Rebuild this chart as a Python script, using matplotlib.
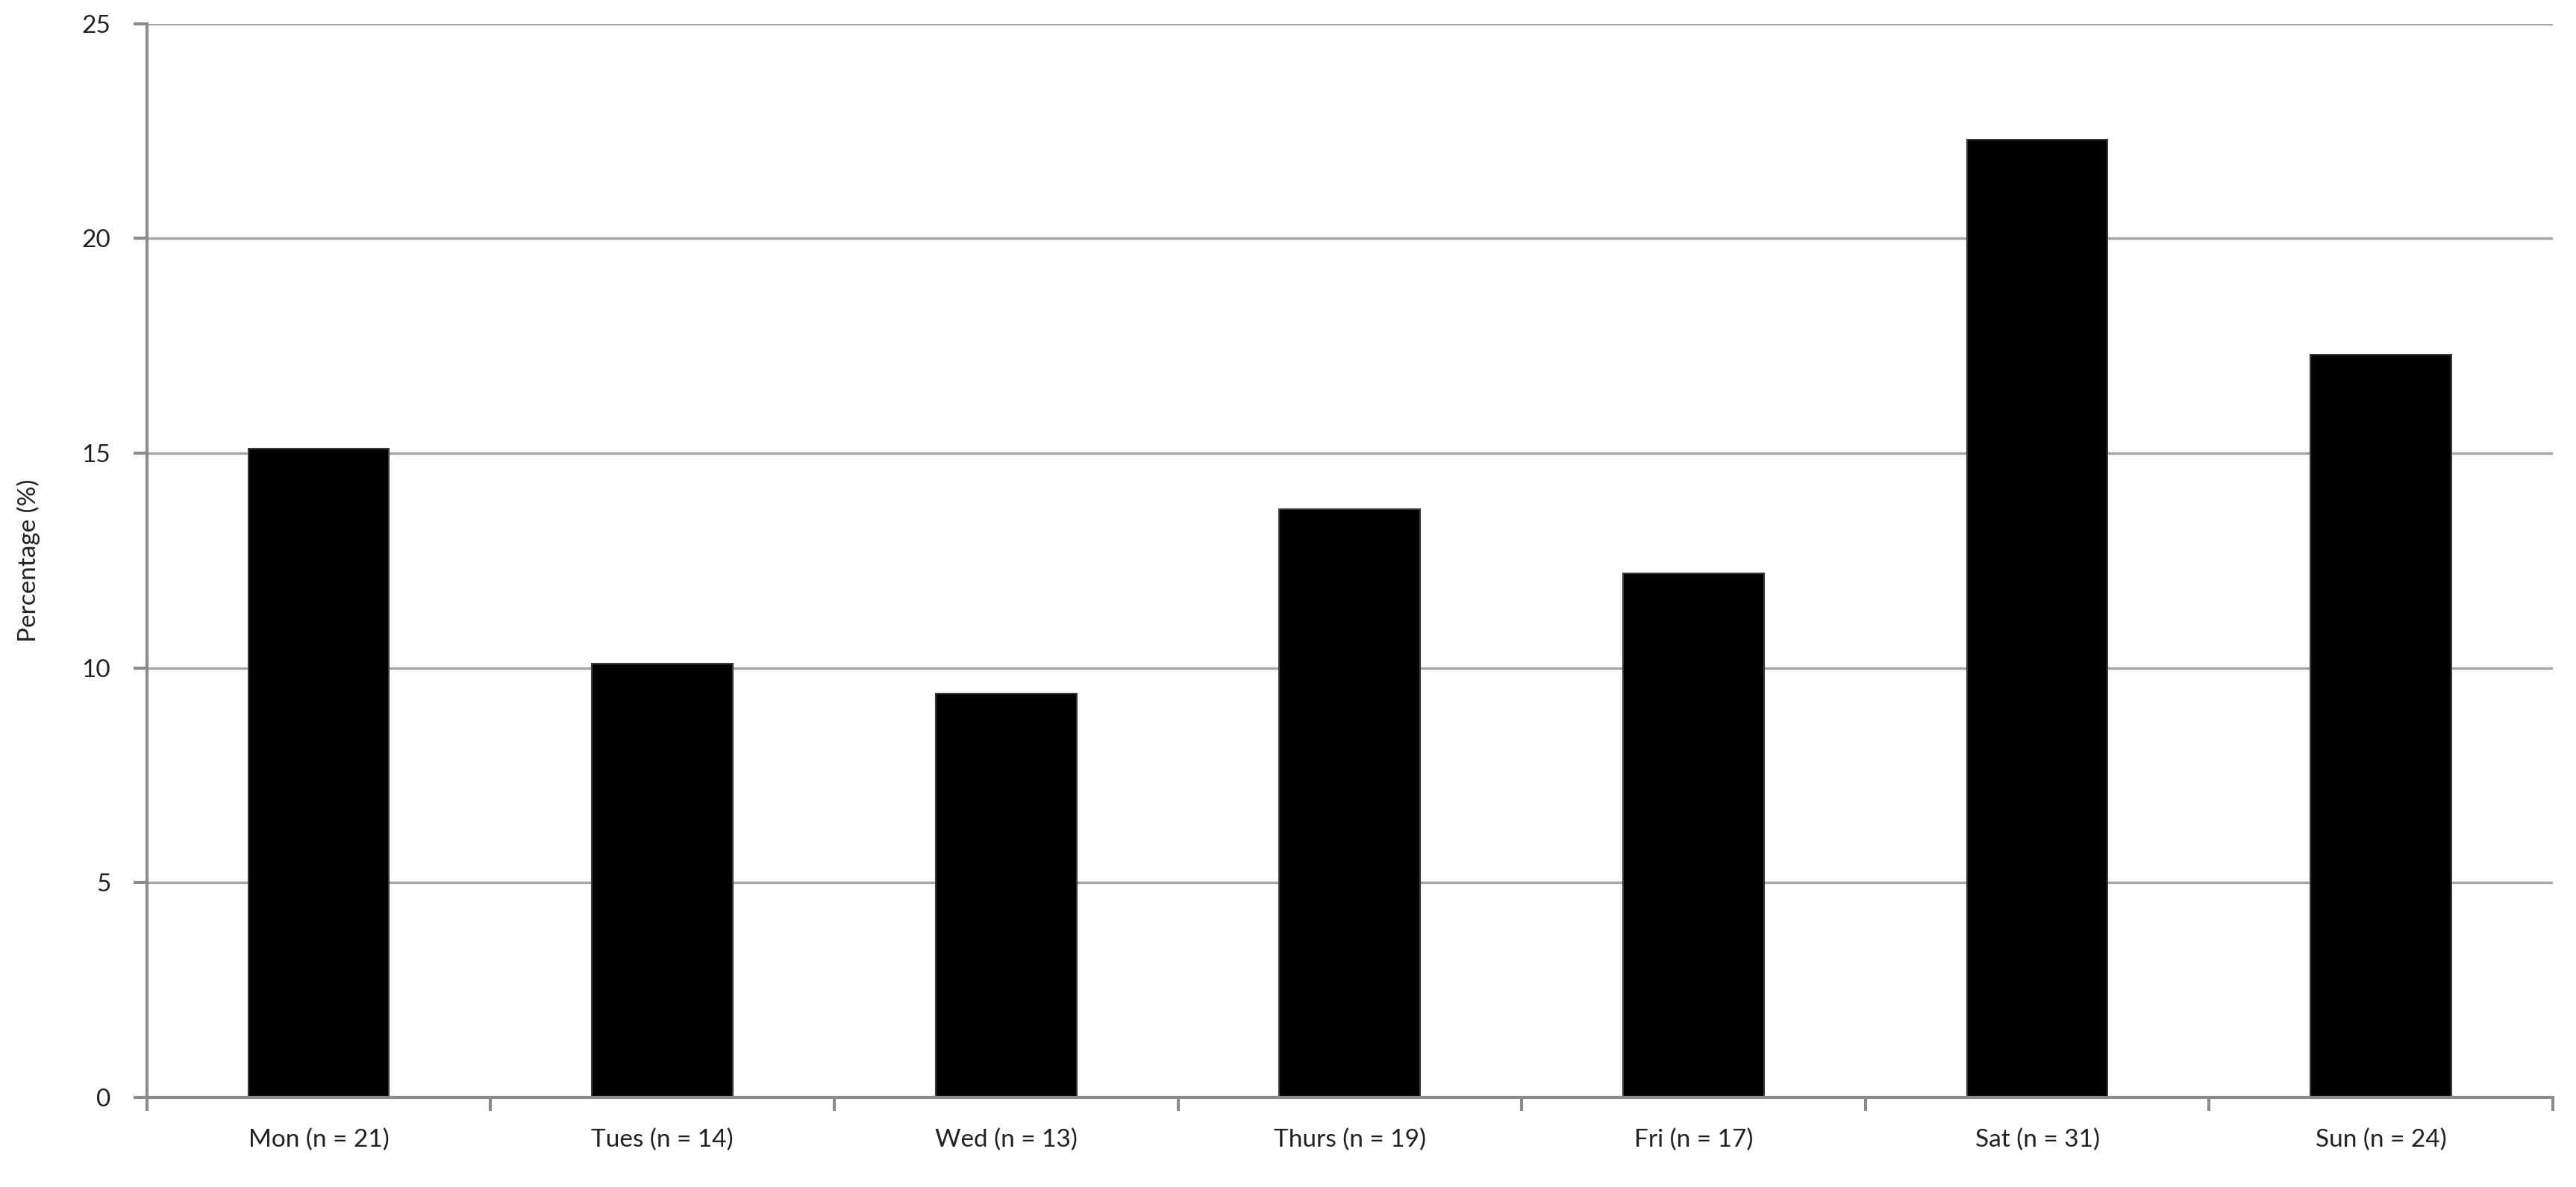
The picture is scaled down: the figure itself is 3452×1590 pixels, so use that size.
import numpy as np
import matplotlib
matplotlib.use("Agg")
import matplotlib.pyplot as plt

# ------------------------------------------
# DATA
# ------------------------------------------
days = ["Mon (n = 21)", "Tues (n = 14)", "Wed (n = 13)", "Thurs (n = 19)",
        "Fri (n = 17)", "Sat (n = 31)", "Sun (n = 24)"]
percent = [15.1, 10.1, 9.4, 13.7, 12.2, 22.3, 17.3]
y_ticks = [0, 5, 10, 15, 20, 25]

plt.rcParams['font.family'] = ['Lato', 'DejaVu Sans']

fig = plt.figure(figsize=(34.52, 15.90), dpi=100)
ax = fig.add_axes([0.057, 0.0755, 0.934, 0.9045])

grey = "#8c8c8c"
x = np.arange(len(days))

ax.set_axisbelow(True)
ax.yaxis.grid(True, color="#a6a6a6", linewidth=2.4)
ax.bar(x, percent, width=0.41, color="black", edgecolor="#3a3a3a", linewidth=1.5)

ax.set_xlim(-0.5, len(days) - 0.5)
ax.set_ylim(0, 25)
ax.set_yticks(y_ticks)
ax.set_xticks(x)
ax.set_xticklabels(days)
ax.set_xticks(np.arange(-0.5, len(days)), minor=True)

ax.tick_params(axis="x", which="major", length=0, pad=30, labelsize=24, labelcolor="#222222")
ax.tick_params(axis="x", which="minor", length=13, width=3, color=grey, direction="out")
ax.tick_params(axis="y", length=13, width=3, color=grey, pad=22, labelsize=24, labelcolor="#222222")

for side in ["top", "right"]:
    ax.spines[side].set_visible(False)
for side in ["left", "bottom"]:
    ax.spines[side].set_color(grey)
    ax.spines[side].set_linewidth(3)

ax.set_ylabel("Percentage (%)", fontsize=24, color="#222222", labelpad=40)

fig.savefig("out.png", dpi=100, facecolor="white")
